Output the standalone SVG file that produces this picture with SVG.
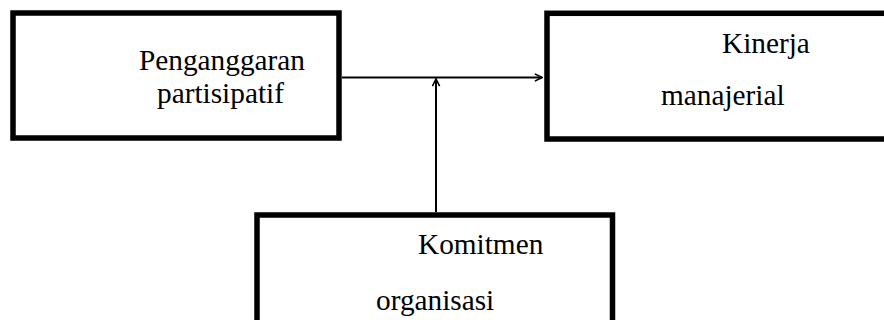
<svg xmlns="http://www.w3.org/2000/svg" width="884" height="320" viewBox="0 0 884 320">
<defs>
<style>
.box{fill:#fff;stroke:#000;stroke-width:5.5;}
.t{font-family:"Liberation Serif","Times New Roman",serif;font-size:29.3px;fill:#000;}
.ln{stroke:#000;stroke-width:2;fill:none;}
</style>
<marker id="ah" viewBox="0 0 10 10" refX="9" refY="5" markerWidth="9" markerHeight="9" markerUnits="userSpaceOnUse" orient="auto">
<path d="M1,1 L9,5 L1,9" fill="none" stroke="#000" stroke-width="1.8"/>
</marker>
</defs>
<rect width="884" height="320" fill="#fff"/>
<g id="node-penganggaran">
<rect class="box" x="13" y="13" width="326" height="125"/>
<text class="t" x="139" y="70">Penganggaran</text>
<text class="t" x="157" y="103">partisipatif</text>
</g>
<g id="node-kinerja">
<rect class="box" x="547" y="13.3" width="345" height="125.7"/>
<text class="t" x="722" y="53">Kinerja</text>
<text class="t" x="661" y="105">manajerial</text>
</g>
<g id="node-komitmen">
<rect class="box" x="257" y="215" width="355.5" height="120"/>
<text class="t" x="418" y="254">Komitmen</text>
<text class="t" x="376" y="310">organisasi</text>
</g>
<g id="connectors">
<line class="ln" x1="342" y1="77.5" x2="542" y2="77.5" marker-end="url(#ah)"/>
<line class="ln" x1="436" y1="212" x2="436" y2="79" marker-end="url(#ah)"/>
</g>
</svg>
